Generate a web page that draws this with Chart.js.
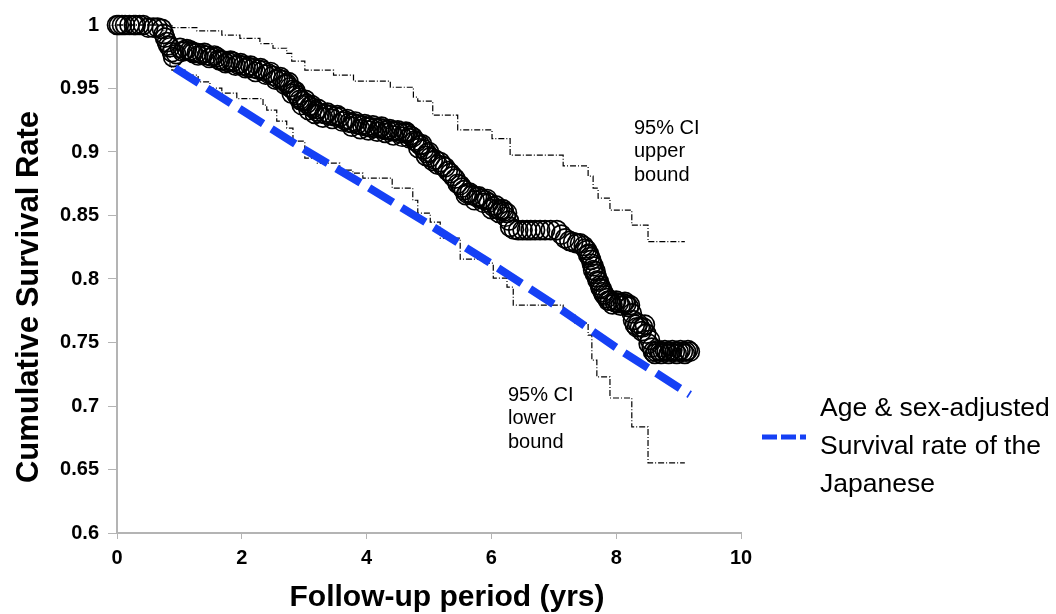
<!DOCTYPE html>
<html>
<head>
<meta charset="utf-8">
<script src="https://cdn.jsdelivr.net/npm/chart.js@4.4.1/dist/chart.umd.min.js"></script>
<style>
  html,body{margin:0;padding:0;background:#fff;}
  #wrap{width:1056px;height:614px;}
</style>
</head>
<body>
<div id="wrap"><canvas id="surv" width="1056" height="614"></canvas></div>
<script>
// Kaplan-Meier estimate (open circles)
var kmTime=[0,0.03,0.08,0.13,0.2,0.27,0.3,0.36,0.42,0.5,0.58,0.65,0.72,0.75,0.77,0.8,0.82,0.85,0.88,0.9,0.95,
  1.01,1.08,1.17,1.22,1.28,1.36,1.44,1.52,1.6,1.65,1.7,1.78,1.86,1.94,2.02,2.1,2.18,2.26,2.34,2.42,2.5,2.58,2.66,
  2.72,2.77,2.82,2.88,2.93,2.98,3.04,3.09,3.14,3.2,3.25,3.33,3.41,3.49,3.57,3.65,3.72,3.78,3.85,3.93,4.0,4.05,
  4.13,4.21,4.27,4.33,4.4,4.46,4.54,4.6,4.65,4.7,4.74,4.8,4.86,4.92,4.97,5.02,5.1,5.18,5.26,5.34,5.42,5.5,5.56,
  5.61,5.69,5.77,5.84,5.9,5.96,6.03,6.1,6.14,6.2,6.25,6.28,6.3,6.36,6.43,6.5,6.57,6.63,6.7,6.78,6.86,6.95,7.05,
  7.12,7.18,7.25,7.31,7.37,7.42,7.48,7.53,7.56,7.58,7.61,7.63,7.66,7.69,7.72,7.74,7.77,7.79,7.82,7.85,7.9,7.98,
  8.04,8.11,8.16,8.22,8.25,8.27,8.3,8.33,8.38,8.43,8.48,8.54,8.57,8.59,8.64,8.7,8.75,8.81,8.87,8.94,9.0,9.07,9.12,9.18];
var kmSurv=[1,1,1,1,1,1,1,1,1,0.998,0.998,0.998,0.997,0.993,0.99,0.9865,0.984,0.9825,0.9786,0.9747,0.977,
  0.982,0.98,0.98,0.978,0.978,0.977,0.976,0.975,0.9747,0.972,0.972,0.971,0.971,0.969,0.968,0.967,0.966,0.965,0.964,0.962,0.96,0.958,0.9566,
  0.954,0.951,0.949,0.945,0.941,0.94,0.938,0.936,0.9345,0.932,0.9305,0.93,0.929,0.928,0.9274,0.925,0.923,0.9227,0.922,0.921,0.92,0.9196,
  0.919,0.9188,0.918,0.9172,0.9165,0.9164,0.9148,0.9148,0.9148,0.913,0.9117,0.908,0.9054,0.902,0.899,0.896,0.894,0.892,0.888,0.8834,0.879,0.874,0.87,
  0.8676,0.866,0.8645,0.863,0.862,0.86,0.857,0.855,0.854,0.853,0.852,0.846,0.841,0.839,0.8385,0.8385,0.8385,0.8385,0.8385,0.8385,0.8385,0.8385,0.8385,
  0.835,0.832,0.83,0.829,0.828,0.828,0.826,0.8227,0.82,0.8172,0.812,0.807,0.804,0.8015,0.798,0.795,0.792,0.7896,0.787,0.785,0.783,0.7818,
  0.781,0.781,0.78,0.7794,0.773,0.7676,0.764,0.762,0.762,0.762,0.757,0.752,0.746,0.7427,0.7427,0.7427,0.7427,0.7427,0.7427,0.7427,0.7427,0.7427,0.7427,0.7427];

// more circles where the band is packed solid
var kmTimeB=[1.05,1.12,1.2,1.3,1.4,1.48,1.56,1.63,1.74,1.82,1.9,1.98,2.06,2.14,2.22,2.3,2.38,2.46,2.54,2.62,2.69,2.75,2.8,2.86,
  2.91,2.96,3.02,3.07,3.12,3.17,3.22,3.3,3.37,3.45,3.53,3.61,3.69,3.76,3.82,3.9,3.97,4.03,4.1,4.17,4.24,4.3,4.37,4.43,4.5,
  4.57,4.63,4.68,4.77,4.83,4.89,4.95,5.0,5.06,5.14,5.22,5.3,5.38,5.46,5.53,5.59,5.65,5.73,5.8,5.87,5.93,6.0,6.07,6.12,6.18,
  6.23,7.5,7.55,7.6,7.64,7.67,7.7,7.75,7.8,7.87,7.94,8.0,8.07,8.14,8.2,8.35,8.41,8.46,8.52,8.62,8.67,8.72,8.78,8.84,8.9,
  8.97,9.03,9.1,9.15];
var kmSurvB=[0.979,0.981,0.979,0.976,0.978,0.974,0.976,0.973,0.97,0.972,0.968,0.97,0.966,0.968,0.963,0.966,0.961,0.963,0.957,0.959,0.953,0.955,0.946,0.948,
  0.943,0.937,0.941,0.933,0.937,0.93,0.934,0.927,0.931,0.926,0.929,0.924,0.926,0.92,0.924,0.918,0.922,0.917,0.921,0.916,0.92,0.915,0.918,0.913,0.917,
  0.912,0.916,0.911,0.909,0.903,0.906,0.897,0.9,0.893,0.89,0.889,0.885,0.881,0.875,0.872,0.866,0.868,0.862,0.865,0.86,0.863,0.855,0.858,0.852,0.855,
  0.849,0.824,0.819,0.815,0.81,0.806,0.799,0.793,0.788,0.783,0.78,0.783,0.779,0.782,0.778,0.765,0.759,0.764,0.749,0.741,0.744,0.741,0.744,0.741,0.744,
  0.741,0.744,0.741,0.744];

// 95% CI bounds (step lines)
var upperTime=[0,0.88,1.28,1.68,1.97,2.29,2.5,2.72,2.8,3.01,3.47,3.79,4.38,4.75,4.82,5.06,5.46,6.01,6.3,7.15,7.55,7.63,7.71,7.9,8.25,8.51,9.1];
var upperVal=[1,0.998,0.9954,0.992,0.9894,0.9854,0.9817,0.9776,0.9715,0.9644,0.9605,0.9558,0.951,0.9432,0.94,0.929,0.9175,0.9105,0.8975,0.889,0.881,0.8715,0.8637,0.8542,0.8424,0.8294,0.8294];
var lowerTime=[0,0.75,0.85,0.88,1.09,1.3,1.49,1.68,1.92,2.34,2.4,2.56,2.72,2.82,3.01,3.21,3.57,3.78,3.94,4.41,4.74,4.82,5.02,5.18,5.5,5.87,6.03,6.25,6.35,7.15,7.34,7.55,7.61,7.69,7.9,8.25,8.51,9.1];
var lowerVal=[1,0.975,0.9668,0.9644,0.9605,0.9552,0.9503,0.9463,0.942,0.9369,0.9329,0.9243,0.9188,0.9085,0.8952,0.8912,0.8857,0.8834,0.8794,0.8715,0.862,0.8519,0.8448,0.8322,0.8157,0.8125,0.8007,0.7936,0.7794,0.7715,0.7653,0.7558,0.7361,0.7229,0.7063,0.6836,0.6552,0.6552];

// age & sex-adjusted survival of the Japanese
var refTime=[0.93,2,3,4,5,6,7,8,9.18];
var refVal=[0.966,0.933,0.902,0.873,0.843,0.812,0.78,0.746,0.709];

var legendLines=['Age & sex-adjusted','Survival rate of the','Japanese'];
var upperNote=['95% CI','upper','bound'];
var lowerNote=['95% CI','lower','bound'];

function pts(xs,ys){
  var out=[];
  for(var i=0;i<xs.length;i++){ out.push({x:xs[i],y:ys[i]}); }
  return out;
}

var FONT="'Liberation Sans', Arial, Helvetica, sans-serif";
var axisGray='#b4b4b4';

// extra text: axis titles, CI notes, legend
var textPlugin={
  id:'textPlugin',
  afterDraw:function(chart){
    var ctx=chart.ctx;
    ctx.save();
    ctx.fillStyle='#000';
    ctx.textBaseline='middle';

    ctx.font='bold 30px '+FONT;
    ctx.textAlign='center';
    ctx.fillText('Follow-up period (yrs)',447,598);
    ctx.save();
    ctx.translate(29,297);
    ctx.rotate(-Math.PI/2);
    ctx.font='bold 31px '+FONT;
    ctx.fillText('Cumulative Survival Rate',0,0);
    ctx.restore();

    ctx.textAlign='left';
    ctx.font='20px '+FONT;
    for(var i=0;i<upperNote.length;i++){ ctx.fillText(upperNote[i],634,128+i*23.5); }
    for(var j=0;j<lowerNote.length;j++){ ctx.fillText(lowerNote[j],508,395+j*23.5); }

    ctx.font='26.5px '+FONT;
    for(var k=0;k<legendLines.length;k++){ ctx.fillText(legendLines[k],820,409+k*38); }

    ctx.strokeStyle='#1540f5';
    ctx.lineWidth=5;
    ctx.setLineDash([15,4]);
    ctx.beginPath();
    ctx.moveTo(762,437);
    ctx.lineTo(806,437);
    ctx.stroke();
    ctx.restore();
  }
};

var ctx=document.getElementById('surv');
var chart=new Chart(ctx,{
  type:'line',
  data:{
    datasets:[
      {
        label:'Age & sex-adjusted survival rate of the Japanese',
        data:pts(refTime,refVal),
        borderColor:'#1540f5',
        borderWidth:8,
        borderDash:[28,10],
        pointRadius:0,
        fill:false,
        tension:0,
        order:0,
        clip:false
      },
      {
        label:'Cumulative survival',
        data:pts(kmTime,kmSurv).concat(pts(kmTimeB,kmSurvB)),
        showLine:false,
        pointStyle:'circle',
        pointRadius:9.5,
        pointBorderWidth:1.7,
        pointBorderColor:'#000',
        pointBackgroundColor:'rgba(0,0,0,0)',
        order:1,
        clip:false
      },
      {
        label:'95% CI upper bound',
        data:pts(upperTime,upperVal),
        stepped:true,
        borderColor:'#000',
        borderWidth:1.2,
        borderDash:[6,2,1,2],
        pointRadius:0,
        fill:false,
        order:2,
        clip:false
      },
      {
        label:'95% CI lower bound',
        data:pts(lowerTime,lowerVal),
        stepped:true,
        borderColor:'#000',
        borderWidth:1.2,
        borderDash:[6,2,1,2],
        pointRadius:0,
        fill:false,
        order:2,
        clip:false
      }
    ]
  },
  options:{
    responsive:false,
    animation:false,
    devicePixelRatio:1,
    layout:{padding:{left:0,right:315,top:25,bottom:0}},
    plugins:{legend:{display:false},tooltip:{enabled:false}},
    scales:{
      x:{
        type:'linear',min:0,max:10,
        afterFit:function(s){ s.height=81; },
        ticks:{stepSize:2,color:'#000',padding:7,maxRotation:0,font:{family:FONT,size:20,weight:'bold'}},
        grid:{drawOnChartArea:false,drawTicks:true,tickLength:6,color:axisGray,tickColor:axisGray},
        border:{display:true,color:axisGray,width:2}
      },
      y:{
        type:'linear',min:0.6,max:1,
        afterFit:function(s){ s.width=117; },
        ticks:{stepSize:0.05,color:'#000',padding:9,font:{family:FONT,size:20,weight:'bold'},
          callback:function(v){ return String(+v.toFixed(2)); }},
        grid:{drawOnChartArea:false,drawTicks:true,tickLength:9,color:axisGray,tickColor:axisGray},
        border:{display:true,color:axisGray,width:2}
      }
    }
  },
  plugins:[textPlugin]
});
</script>
</body>
</html>
